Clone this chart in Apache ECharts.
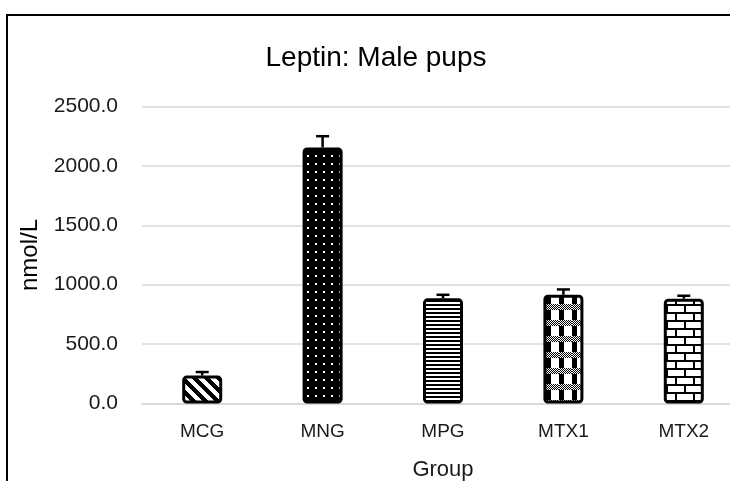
<!DOCTYPE html>
<html>
<head>
<meta charset="utf-8">
<script src="https://cdn.jsdelivr.net/npm/echarts@6/dist/echarts.min.js"></script>
<style>
  html, body { margin: 0; padding: 0; background: #fff; }
  #chart { width: 730px; height: 481px; }
</style>
</head>
<body>
<div id="chart"></div>
<script>
var categories = ['MCG', 'MNG', 'MPG', 'MTX1', 'MTX2'];
var leptin = [235, 2155, 885, 915, 882];
var errors = [30, 95, 30, 45, 25];
var yTicks = [0, 500, 1000, 1500, 2000, 2500];

// fill patterns, one per group (drawn into small canvas tiles)
function tile(w, h, fn) {
  var c = document.createElement('canvas');
  c.width = w; c.height = h;
  var ctx = c.getContext('2d');
  var img = ctx.createImageData(w, h);
  for (var y = 0; y < h; y++) {
    for (var x = 0; x < w; x++) {
      var v = fn(x, y) ? 255 : 0;
      var k = (y * w + x) * 4;
      img.data[k] = v; img.data[k + 1] = v; img.data[k + 2] = v; img.data[k + 3] = 255;
    }
  }
  ctx.putImageData(img, 0, 0);
  return { image: c, repeat: 'repeat' };
}

var patterns = [
  // diagonal stripes
  tile(12, 12, function (x, y) { return ((x - y) % 12 + 12) % 12 < 6; }),
  // dots
  tile(8, 8, function (x, y) { return x >= 3 && x < 5 && y >= 3 && y < 5; }),
  // horizontal lines
  tile(4, 4, function (x, y) { return y >= 2; }),
  // checker bands + black columns
  tile(13, 16, function (x, y) {
    if (y < 6) return (x + y) % 2 === 0;
    return x >= 5;
  }),
  // bricks
  tile(18, 16, function (x, y) {
    if (y % 8 < 2) return false;
    if (y < 8) return x >= 2;
    return !(x >= 9 && x < 11);
  })
];

var chart = echarts.init(document.getElementById('chart'));

var barData = leptin.map(function (v, i) {
  return { value: v, itemStyle: { color: patterns[i] } };
});
var errData = leptin.map(function (v, i) {
  return [i, v, v + errors[i]];
});

var option = {
  animation: false,
  backgroundColor: '#fff',
  textStyle: { fontFamily: 'Liberation Sans' },
  graphic: [
    {
      type: 'rect',
      shape: { x: 7, y: 15, width: 760, height: 500 },
      style: { fill: 'none', stroke: '#000', lineWidth: 2 },
      silent: true
    },
    {
      type: 'text',
      x: 376, y: 58,
      style: {
        text: 'Leptin: Male pups',
        fontSize: 28, fontFamily: 'Liberation Sans', fill: '#000',
        textAlign: 'center', textVerticalAlign: 'middle'
      }
    }
  ],
  grid: { left: 142, top: 106.5, width: 602, height: 297, outerBoundsMode: 'none', containLabel: false },
  xAxis: {
    type: 'category',
    data: categories,
    name: 'Group',
    nameLocation: 'middle',
    nameGap: 55,
    nameTextStyle: { fontSize: 22, color: '#1a1a1a' },
    axisTick: { show: false },
    axisLine: { lineStyle: { color: '#d9d9d9', width: 2 } },
    axisLabel: { fontSize: 19, color: '#1a1a1a', margin: 19 }
  },
  yAxis: {
    type: 'value',
    min: yTicks[0],
    max: yTicks[yTicks.length - 1],
    interval: yTicks[1] - yTicks[0],
    name: 'nmol/L',
    nameLocation: 'middle',
    nameGap: 98,
    nameTextStyle: { fontSize: 24, color: '#000' },
    axisLine: { show: false },
    axisTick: { show: false },
    axisLabel: {
      fontSize: 21, color: '#1a1a1a', margin: 24,
      formatter: function (v) { return v.toFixed(1); }
    },
    splitLine: { lineStyle: { color: '#d9d9d9', width: 1.5 } }
  },
  series: [
    {
      type: 'bar',
      data: barData,
      barWidth: 40,
      itemStyle: { borderColor: '#000', borderWidth: 3, borderRadius: 3 },
      z: 2
    },
    {
      type: 'custom',
      data: errData,
      encode: { x: 0, y: [1, 2] },
      z: 3,
      renderItem: function (params, api) {
        var base = api.coord([api.value(0), api.value(1)]);
        var top = api.coord([api.value(0), api.value(2)]);
        var half = 6.5;
        return {
          type: 'group',
          children: [
            { type: 'line', shape: { x1: top[0], y1: base[1], x2: top[0], y2: top[1] },
              style: { stroke: '#000', lineWidth: 2.5 } },
            { type: 'line', shape: { x1: top[0] - half, y1: top[1], x2: top[0] + half, y2: top[1] },
              style: { stroke: '#000', lineWidth: 2.5 } }
          ]
        };
      }
    }
  ]
};

chart.setOption(option);
</script>
</body>
</html>
